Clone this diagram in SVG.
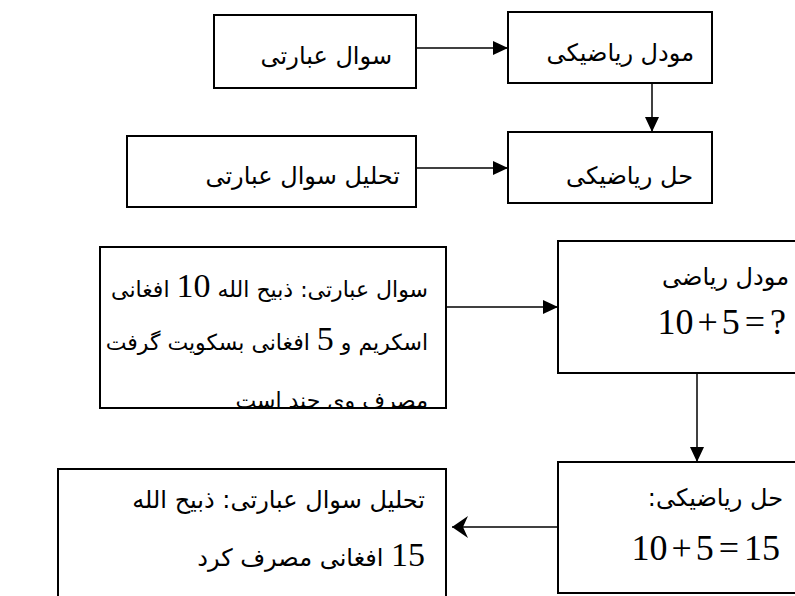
<svg xmlns="http://www.w3.org/2000/svg" width="795" height="596" viewBox="0 0 795 596">
<style>
.box{fill:#fff;stroke:#000;stroke-width:2}
.fa{font-family:'DejaVu Sans','Noto Sans',sans-serif;fill:#000;direction:rtl;text-anchor:start}
.num{font-family:'Liberation Serif','Times New Roman',serif;fill:#000}
.eq{font-family:'Liberation Serif','Times New Roman',serif;fill:#000;text-anchor:end;font-size:36px}
.conn{stroke:#000;stroke-width:1.5;fill:none}
</style>
<defs>
<marker id="ah" markerWidth="15" markerHeight="14" refX="15" refY="7" orient="auto" markerUnits="userSpaceOnUse"><path d="M0,0 L15,7 L0,14 z" fill="#000"/></marker>
<marker id="ah2" markerWidth="16" markerHeight="22" refX="16" refY="11" orient="auto" markerUnits="userSpaceOnUse"><path d="M0,0 L16,11 L0,22 L5,11 z" fill="#000"/></marker>
<clipPath id="c5"><rect x="100" y="247" width="346" height="161"/></clipPath>
</defs>
<g id="connectors">
<path class="conn" d="M416,48 L508,48" marker-end="url(#ah)"/>
<path class="conn" d="M652,83 L652,132" marker-end="url(#ah)"/>
<path class="conn" d="M416,168 L508,168" marker-end="url(#ah)"/>
<path class="conn" d="M446,307 L558,307" marker-end="url(#ah)"/>
<path class="conn" d="M697,373 L697,462" marker-end="url(#ah)"/>
<path class="conn" d="M558,527 L452,527" marker-end="url(#ah2)"/>
</g>
<g id="n1"><rect class="box" x="214" y="15" width="202" height="73"/><text class="fa" x="392" y="64" font-size="24">سوال عبارتی</text></g>
<g id="n2"><rect class="box" x="508" y="12" width="204" height="71"/><text class="fa" x="694" y="61" font-size="24">مودل ریاضیکی</text></g>
<g id="n3"><rect class="box" x="127" y="136" width="289" height="71"/><text class="fa" x="400" y="184" font-size="24">تحلیل سوال عبارتی</text></g>
<g id="n4"><rect class="box" x="508" y="132" width="204" height="71"/><text class="fa" x="693" y="184" font-size="24">حل ریاضیکی</text></g>
<g id="n5"><rect class="box" x="100" y="247" width="346" height="161"/>
<g clip-path="url(#c5)">
<text class="fa" x="428" y="297" font-size="22">سوال عبارتی: ذبیح الله <tspan class="num" font-size="34">10</tspan> افغانی</text>
<text class="fa" x="428" y="350" font-size="22">اسکریم و <tspan class="num" font-size="34">5</tspan> افغانی بسکویت گرفت</text>
<text class="fa" x="428" y="408" font-size="22">مصرف وی چند است</text>
</g></g>
<g id="n6"><rect class="box" x="558" y="241" width="260" height="132"/><text class="fa" x="789" y="285" font-size="24">مودل ریاضی</text><text class="eq" x="786" y="334">10<tspan dx="4">+</tspan><tspan dx="4">5</tspan><tspan dx="5">=</tspan><tspan dx="5">?</tspan></text></g>
<g id="n8"><rect class="box" x="558" y="462" width="260" height="131"/><text class="fa" x="783" y="506" font-size="24">حل ریاضیکی:</text><text class="eq" x="780" y="560">10<tspan dx="4">+</tspan><tspan dx="4">5</tspan><tspan dx="5">=</tspan><tspan dx="5">15</tspan></text></g>
<g id="n7"><rect class="box" x="58" y="469" width="388" height="150"/><text class="fa" x="425" y="508" font-size="24">تحلیل سوال عبارتی: ذبیح الله</text><text class="fa" x="425" y="566" font-size="24"><tspan class="num" font-size="34">15</tspan> افغانی مصرف کرد</text></g>
</svg>
